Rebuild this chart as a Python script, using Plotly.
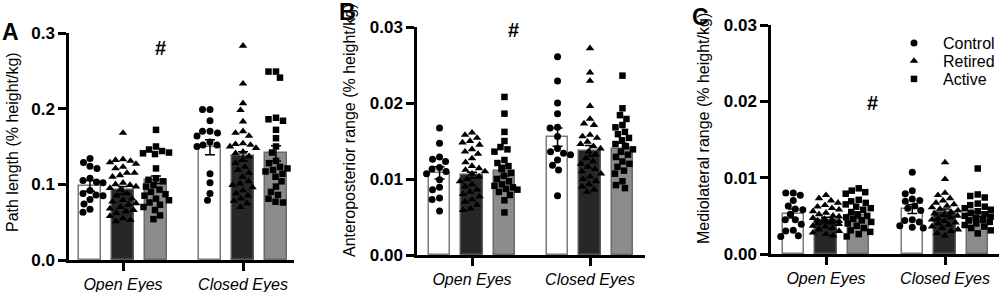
import numpy as np
import plotly.graph_objects as go

conditions = ["Open Eyes", "Closed Eyes"]
groups = ["Control", "Retired", "Active"]

# ---------------- Panel A: Path length ----------------
A_control_open = [0.134, 0.129, 0.124, 0.121, 0.108, 0.105, 0.103, 0.102, 0.092, 0.088, 0.086, 0.085, 0.080, 0.074, 0.067, 0.063]
A_retired_open = [0.168, 0.133, 0.132, 0.131, 0.129, 0.127, 0.123, 0.121, 0.115, 0.115, 0.112, 0.110, 0.102, 0.100, 0.099, 0.097, 0.095, 0.093, 0.088, 0.085, 0.081, 0.079, 0.077, 0.075, 0.073, 0.070, 0.068, 0.066, 0.064, 0.062, 0.058, 0.055, 0.053, 0.051]
A_active_open = [0.172, 0.150, 0.146, 0.144, 0.142, 0.141, 0.140, 0.121, 0.108, 0.106, 0.104, 0.099, 0.097, 0.093, 0.090, 0.087, 0.085, 0.081, 0.079, 0.076, 0.073, 0.070, 0.066, 0.059, 0.054]
A_control_closed = [0.199, 0.199, 0.184, 0.170, 0.170, 0.168, 0.164, 0.156, 0.152, 0.152, 0.150, 0.114, 0.102, 0.088, 0.079]
A_retired_closed = [0.283, 0.233, 0.207, 0.198, 0.183, 0.170, 0.168, 0.164, 0.154, 0.153, 0.152, 0.150, 0.148, 0.143, 0.141, 0.137, 0.132, 0.128, 0.123, 0.119, 0.115, 0.110, 0.104, 0.101, 0.099, 0.096, 0.092, 0.088, 0.085, 0.081, 0.078, 0.075, 0.070]
A_active_closed = [0.249, 0.249, 0.241, 0.188, 0.186, 0.184, 0.172, 0.161, 0.150, 0.142, 0.131, 0.128, 0.123, 0.121, 0.119, 0.117, 0.114, 0.110, 0.104, 0.097, 0.090, 0.086, 0.081, 0.077, 0.076]
A_means = {"Control": [0.098, 0.149], "Retired": [0.092, 0.137], "Active": [0.106, 0.141]}
A_sems = {"Control": [0.007, 0.010], "Retired": [0.005, 0.006], "Active": [0.005, 0.010]}
A_ticks = [0.0, 0.1, 0.2, 0.3]

# ---------------- Panel B: Anteroposterior range ----------------
B_control_open = [0.0167, 0.0147, 0.0129, 0.0126, 0.0123, 0.0115, 0.0113, 0.0110, 0.0107, 0.0099, 0.0089, 0.0086, 0.0075, 0.0073, 0.0058]
B_retired_open = [0.0161, 0.0158, 0.0154, 0.0150, 0.0148, 0.0145, 0.0139, 0.0136, 0.0133, 0.0127, 0.0122, 0.0117, 0.0114, 0.0112, 0.0110, 0.0107, 0.0103, 0.0100, 0.0097, 0.0093, 0.0090, 0.0086, 0.0083, 0.0080, 0.0077, 0.0073, 0.0070, 0.0066, 0.0061, 0.0059]
B_active_open = [0.0208, 0.0186, 0.0162, 0.0150, 0.0142, 0.0139, 0.0136, 0.0125, 0.0121, 0.0117, 0.0113, 0.0108, 0.0104, 0.0100, 0.0097, 0.0093, 0.0091, 0.0089, 0.0087, 0.0086, 0.0083, 0.0079, 0.0072, 0.0056]
B_control_closed = [0.0261, 0.0229, 0.0200, 0.0186, 0.0168, 0.0167, 0.0156, 0.0140, 0.0136, 0.0134, 0.0132, 0.0125, 0.0118, 0.0112, 0.0078]
B_retired_closed = [0.0272, 0.0240, 0.0229, 0.0196, 0.0179, 0.0173, 0.0171, 0.0158, 0.0156, 0.0154, 0.0149, 0.0146, 0.0143, 0.0140, 0.0136, 0.0132, 0.0127, 0.0123, 0.0120, 0.0116, 0.0113, 0.0110, 0.0107, 0.0103, 0.0100, 0.0097, 0.0093, 0.0090, 0.0086, 0.0083]
B_active_closed = [0.0236, 0.0193, 0.0184, 0.0179, 0.0171, 0.0168, 0.0162, 0.0159, 0.0154, 0.0151, 0.0146, 0.0143, 0.0139, 0.0136, 0.0132, 0.0129, 0.0123, 0.0120, 0.0116, 0.0111, 0.0107, 0.0097, 0.0092, 0.0088]
B_means = {"Control": [0.0108, 0.0155], "Retired": [0.0105, 0.0137], "Active": [0.0111, 0.0140]}
B_sems = {"Control": [0.0008, 0.0012], "Retired": [0.0004, 0.0007], "Active": [0.0007, 0.0007]}
B_ticks = [0.00, 0.01, 0.02, 0.03]

# ---------------- Panel C: Mediolateral range ----------------
C_control_open = [0.0080, 0.0080, 0.0077, 0.0070, 0.0063, 0.0059, 0.0058, 0.0052, 0.0045, 0.0045, 0.0039, 0.0031, 0.0030, 0.0024, 0.0023]
C_retired_open = [0.0077, 0.0073, 0.0070, 0.0067, 0.0064, 0.0062, 0.0060, 0.0058, 0.0056, 0.0054, 0.0052, 0.0050, 0.0049, 0.0047, 0.0046, 0.0045, 0.0044, 0.0043, 0.0042, 0.0041, 0.0040, 0.0039, 0.0037, 0.0036, 0.0034, 0.0032, 0.0030, 0.0028, 0.0026, 0.0024]
C_active_open = [0.0086, 0.0083, 0.0081, 0.0079, 0.0071, 0.0069, 0.0067, 0.0065, 0.0062, 0.0060, 0.0058, 0.0055, 0.0052, 0.0050, 0.0048, 0.0046, 0.0044, 0.0042, 0.0040, 0.0037, 0.0034, 0.0031, 0.0029, 0.0026, 0.0023]
C_control_closed = [0.0107, 0.0083, 0.0079, 0.0072, 0.0070, 0.0069, 0.0063, 0.0060, 0.0057, 0.0045, 0.0044, 0.0042, 0.0037, 0.0035, 0.0034]
C_retired_closed = [0.0120, 0.0098, 0.0080, 0.0077, 0.0073, 0.0070, 0.0067, 0.0065, 0.0063, 0.0061, 0.0059, 0.0057, 0.0055, 0.0053, 0.0051, 0.0050, 0.0048, 0.0046, 0.0045, 0.0043, 0.0041, 0.0040, 0.0038, 0.0036, 0.0034, 0.0032, 0.0030, 0.0027, 0.0024]
C_active_closed = [0.0112, 0.0078, 0.0076, 0.0074, 0.0066, 0.0064, 0.0062, 0.0060, 0.0058, 0.0056, 0.0054, 0.0052, 0.0050, 0.0049, 0.0047, 0.0045, 0.0044, 0.0042, 0.0040, 0.0038, 0.0036, 0.0034, 0.0031, 0.0027]
C_means = {"Control": [0.0053, 0.0059], "Retired": [0.0045, 0.0055], "Active": [0.0051, 0.0052]}
C_sems = {"Control": [0.0006, 0.0006], "Retired": [0.0003, 0.0004], "Active": [0.0004, 0.0003]}
C_ticks = [0.00, 0.01, 0.02, 0.03]

y_titles = ["Path length (% height/kg)", "Anteroposterior range (% height/kg)", "Mediolateral range (% height/kg)"]
panel_letters = ["A", "B", "C"]

W, H = 1001, 292
FONT = "Liberation Sans"

panels = [
    dict(points={"Control": [A_control_open, A_control_closed],
                 "Retired": [A_retired_open, A_retired_closed],
                 "Active": [A_active_open, A_active_closed]},
         means=A_means, sems=A_sems, ticks=A_ticks, fmt="{:.1f}",
         xpx=(69, 123, 243), ypx=(260, 33)),
    dict(points={"Control": [B_control_open, B_control_closed],
                 "Retired": [B_retired_open, B_retired_closed],
                 "Active": [B_active_open, B_active_closed]},
         means=B_means, sems=B_sems, ticks=B_ticks, fmt="{:.2f}",
         xpx=(417, 472, 590), ypx=(255, 27)),
    dict(points={"Control": [C_control_open, C_control_closed],
                 "Retired": [C_retired_open, C_retired_closed],
                 "Active": [C_active_open, C_active_closed]},
         means=C_means, sems=C_sems, ticks=C_ticks, fmt="{:.2f}",
         xpx=(771, 826, 945), ypx=(254, 25)),
]
x_right_px = [294, 645, 999]

bar_fill = {"Control": "#ffffff", "Retired": "#272727", "Active": "#8b8b8b"}
bar_line = {"Control": "#7a7a7a", "Retired": "#5a5a5a", "Active": "#6a6a6a"}
symbols = {"Control": "circle", "Retired": "triangle-up", "Active": "square"}
msize = {"Control": 7, "Retired": 7.5, "Active": 6.5}
bar_offset = {"Control": -0.275, "Retired": 0.0, "Active": 0.275}
legend_ids = {"Control": "legend", "Retired": "legend2", "Active": "legend3"}
legend_rows = {"Control": 43, "Retired": 61, "Active": 79}
BAR_W = 0.18


def swarm(vals, ppu_y, dmin=7.2, maxoff=13.0):
    vals = np.asarray(vals, dtype=float)
    order = np.argsort(-vals)
    cands = sorted(np.arange(-maxoff, maxoff + 0.001, 0.5), key=lambda c: (abs(c), c))
    placed = []
    offs = np.zeros(len(vals))
    for i in order:
        y = vals[i] * ppu_y
        best, best_pen = None, None
        for c in cands:
            pen = 0.0
            for (px, py) in placed:
                d2 = (c - px) ** 2 + (y - py) ** 2
                if d2 < dmin ** 2:
                    pen += dmin ** 2 - d2
            if pen == 0:
                best = c
                break
            if best_pen is None or pen < best_pen:
                best, best_pen = c, pen
        placed.append((best, y))
        offs[i] = best
    return offs


fig = go.Figure()
layout = dict(width=W, height=H, margin=dict(l=0, r=0, t=0, b=0, autoexpand=False),
              plot_bgcolor="white", paper_bgcolor="white",
              font=dict(family=FONT, color="black"),
              showlegend=True, bargap=0, barmode="overlay")

for k, p in enumerate(panels):
    sfx = "" if k == 0 else str(k + 1)
    xa, ya = "x" + sfx, "y" + sfx
    left, t0, t1 = p["xpx"]
    ppu_x = t1 - t0
    x0 = (left - t0) / ppu_x
    x1 = (x_right_px[k] - t0) / ppu_x
    ybot, ytop = p["ypx"]
    ymax = p["ticks"][-1]
    ppu_y = (ybot - ytop) / ymax

    for g in groups:
        xs = [i + bar_offset[g] for i in range(len(conditions))]
        fig.add_trace(go.Bar(x=xs, y=p["means"][g], width=BAR_W,
                             marker=dict(color=bar_fill[g], line=dict(color=bar_line[g], width=1.5)),
                             xaxis=xa, yaxis=ya, showlegend=False, hoverinfo="skip"))
    for g in groups:
        px, py = [], []
        for i in range(len(conditions)):
            vals = p["points"][g][i]
            offs = swarm(vals, ppu_y)
            px += list(i + bar_offset[g] + offs / ppu_x)
            py += list(vals)
        fig.add_trace(go.Scatter(x=px, y=py, mode="markers", name=g,
                                 marker=dict(symbol=symbols[g], size=msize[g], color="black",
                                             line=dict(width=0)),
                                 xaxis=xa, yaxis=ya, showlegend=(k == 2),
                                 legend=legend_ids[g]))
    for g in groups:
        xs = [i + bar_offset[g] for i in range(len(conditions))]
        fig.add_trace(go.Scatter(x=xs, y=p["means"][g], mode="markers",
                                 marker=dict(size=1, color="rgba(0,0,0,0)"),
                                 error_y=dict(type="data", array=p["sems"][g], color="black",
                                              thickness=1.5, width=5),
                                 xaxis=xa, yaxis=ya, showlegend=False, hoverinfo="skip"))

    layout["xaxis" + sfx] = dict(domain=[left / W, x_right_px[k] / W], range=[x0, x1],
                                 anchor=ya, showline=True, linecolor="black", linewidth=2.5,
                                 ticks="outside", ticklen=8, tickwidth=2.5, tickcolor="black",
                                 tickvals=[0, 1], ticktext=["<i>%s</i>" % c for c in conditions],
                                 tickfont=dict(size=16, family=FONT), showgrid=False, zeroline=False,
                                 automargin=False)
    layout["yaxis" + sfx] = dict(domain=[1 - ybot / H, 1 - ytop / H], range=[0, ymax],
                                 anchor=xa, showline=True, linecolor="black", linewidth=2.5,
                                 ticks="outside", ticklen=8, tickwidth=2.5, tickcolor="black",
                                 tickvals=p["ticks"],
                                 ticktext=["<b>%s</b>" % p["fmt"].format(t) for t in p["ticks"]],
                                 tickfont=dict(size=17, family=FONT),
                                 showgrid=False, zeroline=False, automargin=False)

annotations = []
title_pos = [(13, 142), (349, 131), (703, 129)]
letter_pos = [(10, 32), (347, 12), (700, 17)]
hash_pos = [(160, 48), (513, 30), (872, 103)]
for k in range(3):
    tx, ty = title_pos[k]
    annotations.append(dict(text=y_titles[k], x=tx / W, y=1 - ty / H, xref="paper", yref="paper",
                            showarrow=False, textangle=-90, font=dict(size=16, family=FONT),
                            xanchor="center", yanchor="middle"))
    lx, ly = letter_pos[k]
    annotations.append(dict(text="<b>%s</b>" % panel_letters[k], x=lx / W, y=1 - ly / H,
                            xref="paper", yref="paper", showarrow=False,
                            font=dict(size=23, family=FONT), xanchor="center", yanchor="middle"))
    hx, hy = hash_pos[k]
    annotations.append(dict(text="<b>#</b>", x=hx / W, y=1 - hy / H, xref="paper", yref="paper",
                            showarrow=False, font=dict(size=20, family=FONT),
                            xanchor="center", yanchor="middle"))
layout["annotations"] = annotations
for g in groups:
    layout[legend_ids[g]] = dict(x=885 / W, y=1 - legend_rows[g] / H, xanchor="left", yanchor="middle",
                                 bgcolor="rgba(0,0,0,0)", font=dict(size=16, family=FONT),
                                 itemwidth=48, borderwidth=0)
fig.update_layout(**layout)
fig.write_html("out.html", config={"displayModeBar": False},
               post_script="document.body.style.margin='0';document.body.style.overflow='hidden';")
